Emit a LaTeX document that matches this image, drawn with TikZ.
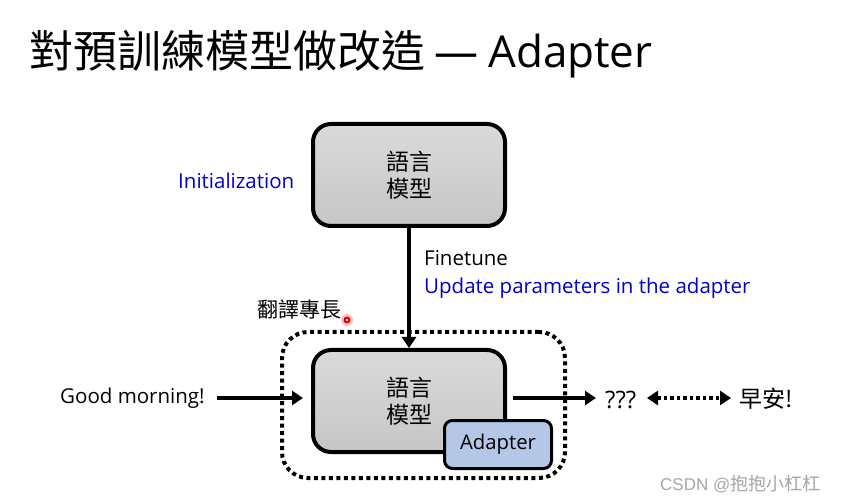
\documentclass[tikz,border=0pt]{standalone}
\usepackage{fontspec}
\setmainfont{Open Sans}
\newfontfamily\cjk{Noto Sans CJK TC}
\newfontfamily\wmfont{Liberation Sans}
\usetikzlibrary{arrows.meta}
\definecolor{myblue}{RGB}{0,0,204}
\definecolor{adfill}{RGB}{180,199,231}
\definecolor{gtop}{RGB}{218,218,218}
\definecolor{gbot}{RGB}{198,198,198}
\tikzset{
  lmbox/.style={draw=black, line width=4pt, rounded corners=18pt, top color=gtop, bottom color=gbot,
    minimum width=192pt, minimum height=102pt, align=center, font=\cjk\fontsize{23}{27}\selectfont, inner sep=0pt},
  adbox/.style={draw=black, line width=3pt, rounded corners=8pt, fill=adfill,
    minimum width=107pt, minimum height=48pt, font=\fontsize{20.3}{24}\selectfont, inner sep=0pt},
  lbl/.style={anchor=west, inner sep=0pt, font=\fontsize{20.5}{24}\selectfont},
  cjklbl/.style={anchor=west, inner sep=0pt, font=\cjk\fontsize{21}{24}\selectfont},
  arr/.style={line width=3.5pt, -{Triangle[length=11pt,width=14pt]}},
  dotarr/.style={line width=3.5pt, dash pattern=on 3.5pt off 3pt, {Triangle[length=11pt,width=14pt]}-{Triangle[length=11pt,width=14pt]}},
}
\begin{document}
\begin{tikzpicture}[x=1pt,y=-1pt]
\useasboundingbox (0,0) rectangle (846,502);
\fill[white] (0,0) rectangle (846,502);
% title
\node[anchor=west, inner sep=0pt] (title) at (29,54) {{\cjk\fontsize{44}{50}\selectfont 對預訓練模型做改造}\hspace{9pt}{\fontsize{44}{50}\selectfont —\hspace{10pt}Adapter}};
% dotted container
\node[draw=black, line width=4pt, dash pattern=on 4pt off 3.5pt, rounded corners=26pt,
  minimum width=283pt, minimum height=146pt] (cont) at (423.5,405) {};
% boxes
\node[lmbox] (top) at (409,175) {語言\\模型};
\node[lmbox] (low) at (409,401) {語言\\模型};
\node[adbox] (ad) at (498,444.5) {Adapter};
% labels
\node[lbl, text=myblue] (init) at (178,181) {Initialization};
\node[lbl] (ft) at (424,258) {Finetune};
\node[lbl, text=myblue] (upd) at (424,288) {Update parameters in the adapter};
\node[cjklbl] (trans) at (257,309) {翻譯專長};
\node[lbl] (gm) at (60,398) {Good morning!};
\node[lbl, font=\fontsize{24}{28}\selectfont] (q) at (605,400) {???};
\node[cjklbl, font=\cjk\fontsize{23}{26}\selectfont] (zao) at (739,399) {早安!};
\node[anchor=west, inner sep=0pt, text=gray!70] (wm) at (660,484) {{\wmfont\fontsize{17}{20}\selectfont CSDN @}{\cjk\fontsize{18}{20}\selectfont 抱抱小杠杠}};
% cursor dot
\fill[red!25] (347,320) circle (6pt);
\fill[red!85!black] (347,320) circle (3.5pt);
\fill[white] (347,320) circle (1.3pt);
% connectors
\coordinate (inEnd) at (303,398);
\coordinate (outStart) at (513,398);
\coordinate (outEnd) at (596,398);
\coordinate (dStart) at (647,398);
\coordinate (dEnd) at (731,398);
\draw[arr] (gm.east -| 217,0) -- (inEnd);
\draw[arr] (top.south) -- (low.north);
\draw[arr] (outStart) -- (outEnd);
\draw[dotarr] (dStart) -- (dEnd);
\end{tikzpicture}
\end{document}
